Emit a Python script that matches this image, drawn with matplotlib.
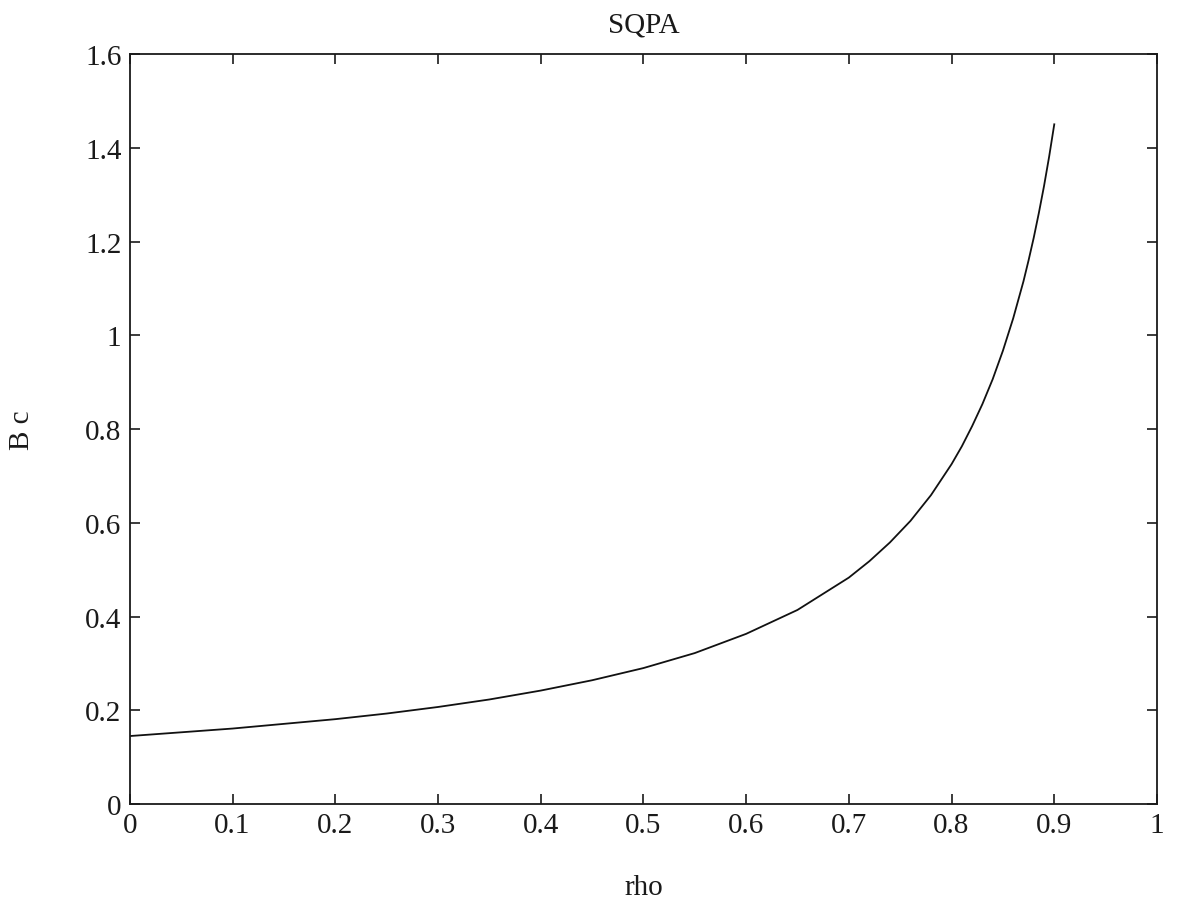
import matplotlib
matplotlib.use('Agg')
import matplotlib.pyplot as plt
import numpy as np

# values
rho = [0.0, 0.05, 0.1, 0.15, 0.2, 0.25, 0.3, 0.35, 0.4, 0.45, 0.5, 0.55,
       0.6, 0.65, 0.7, 0.72, 0.74, 0.76, 0.78, 0.8, 0.81, 0.82, 0.83, 0.84,
       0.85, 0.86, 0.87, 0.875, 0.88, 0.885, 0.89, 0.895, 0.9]
Bc = [0.145, 0.153, 0.161, 0.171, 0.181, 0.193, 0.207, 0.223, 0.242, 0.264,
      0.290, 0.322, 0.363, 0.414, 0.483, 0.518, 0.558, 0.604, 0.659, 0.725,
      0.763, 0.806, 0.853, 0.906, 0.967, 1.036, 1.115, 1.160, 1.208, 1.261,
      1.318, 1.381, 1.450]

xticks = [0, 0.1, 0.2, 0.3, 0.4, 0.5, 0.6, 0.7, 0.8, 0.9, 1]
xticklabels = ['0', '0.1', '0.2', '0.3', '0.4', '0.5', '0.6', '0.7', '0.8', '0.9', '1']
yticks = [0, 0.2, 0.4, 0.6, 0.8, 1.0, 1.2, 1.4, 1.6]
yticklabels = ['0', '0.2', '0.4', '0.6', '0.8', '1', '1.2', '1.4', '1.6']

plt.rcParams['font.family'] = ['Liberation Serif', 'DejaVu Serif']

fig = plt.figure(figsize=(11.8, 9.12), dpi=100)
ax = fig.add_axes([0.110, 0.1173, 0.8705, 0.8224])

ax.plot(rho, Bc, color='#111111', linewidth=1.3)

ax.set_xlim(0, 1)
ax.set_ylim(0, 1.6)
ax.set_xticks(xticks)
ax.set_xticklabels(xticklabels)
ax.set_yticks(yticks)
ax.set_yticklabels(yticklabels)
ax.tick_params(direction='in', length=7, width=1.2, top=True, right=True,
               labelsize=21, pad=6, colors='#1a1a1a')
for s in ax.spines.values():
    s.set_linewidth(1.3)
    s.set_color('#1a1a1a')

ax.set_title('SQPA', fontsize=21, pad=16, color='#1a1a1a')
ax.set_xlabel('rho', fontsize=21, labelpad=26, color='#1a1a1a')
ax.set_ylabel('B c', fontsize=21, labelpad=36, color='#1a1a1a')

fig.savefig('out.png', dpi=100)
